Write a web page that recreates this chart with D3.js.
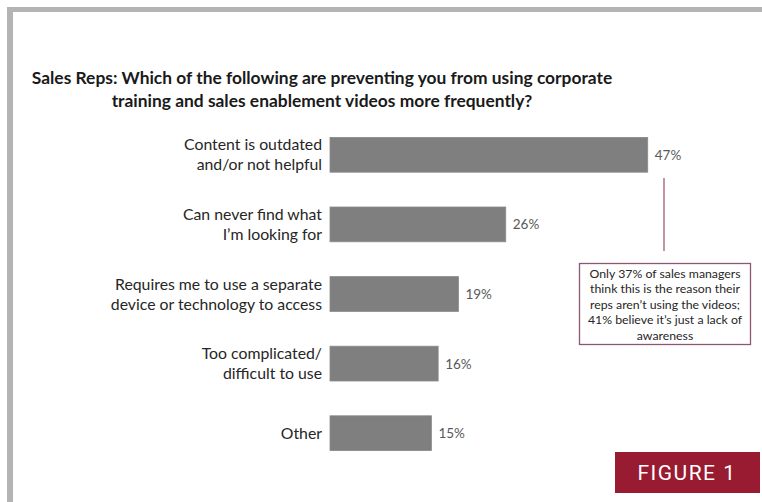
<!DOCTYPE html>
<html>
<head>
<meta charset="utf-8">
<script src="https://cdn.jsdelivr.net/npm/d3@7"></script>
<style>
  html, body { margin: 0; padding: 0; background: #fff; }
  svg { display: block; }
</style>
</head>
<body>
<svg id="chart" width="762" height="502"></svg>
<script>
// Survey answers (sales reps), share of respondents in percent
const categories = [
  ["Content is outdated", "and/or not helpful"],
  ["Can never find what", "I\u2019m looking for"],
  ["Requires me to use a separate", "device or technology to access"],
  ["Too complicated/", "difficult to use"],
  ["Other"]
];
const values = [47, 26, 19, 16, 15];
const valueLabels = ["47%", "26%", "19%", "16%", "15%"];

const titleLines = [
  "Sales Reps: Which of the following are preventing you from using corporate",
  "training and sales enablement videos more frequently?"
];
const noteLines = [
  "Only 37% of sales managers",
  "think this is the reason their",
  "reps aren\u2019t using the videos;",
  "41% believe it\u2019s just a lack of",
  "awareness"
];
const badgeText = "FIGURE 1";

const svg = d3.select("#chart");
const font = "Lato, 'Open Sans', sans-serif";

// page frame
svg.append("rect").attr("x", 0).attr("y", 0).attr("width", 762).attr("height", 502).attr("fill", "#fff");
svg.append("rect").attr("x", 7).attr("y", 7).attr("width", 755).attr("height", 5).attr("fill", "#b4b4b4");
svg.append("rect").attr("x", 7).attr("y", 7).attr("width", 6).attr("height", 495).attr("fill", "#b4b4b4");

// title
svg.append("g").selectAll("text")
  .data(titleLines)
  .join("text")
  .attr("x", 322)
  .attr("y", (d, i) => 84 + i * 23)
  .attr("text-anchor", "middle")
  .attr("font-family", font)
  .attr("font-weight", "bold")
  .attr("font-size", 17.4)
  .attr("fill", "#1a1a1a")
  .text(d => d);

const idx = d3.range(values.length);
const y = d3.scaleBand().domain(idx).range([120, 468]).paddingInner(0.5).paddingOuter(0.25);
const x = d3.scaleLinear().domain([0, 50]).range([330, 668]);

// bars
svg.append("g").selectAll("rect")
  .data(idx)
  .join("rect")
  .attr("x", x(0))
  .attr("y", i => y(i))
  .attr("width", i => x(values[i]) - x(0))
  .attr("height", y.bandwidth())
  .attr("fill", "#7f7f7f")
  .attr("stroke", "#8a8a8a")
  .attr("stroke-width", 0.8);

// category labels
const cat = svg.append("g").selectAll("text")
  .data(idx)
  .join("text")
  .attr("text-anchor", "end")
  .attr("font-family", font)
  .attr("font-size", 15.8)
  .attr("fill", "#262626")
  .attr("x", x(0) - 8)
  .attr("y", i => y(i) + y.bandwidth() / 2 - (categories[i].length - 1) * 10 + 5.5);
cat.selectAll("tspan")
  .data(i => categories[i])
  .join("tspan")
  .attr("x", x(0) - 8)
  .attr("dy", (d, j) => j === 0 ? 0 : 20)
  .text(d => d);

// value labels
svg.append("g").selectAll("text")
  .data(idx)
  .join("text")
  .attr("x", i => x(values[i]) + 7)
  .attr("y", i => y(i) + y.bandwidth() / 2 + 5)
  .attr("font-family", font)
  .attr("font-size", 13.5)
  .attr("fill", "#595959")
  .text(i => valueLabels[i]);

// callout connector and note box
svg.append("line")
  .attr("x1", 664).attr("x2", 664)
  .attr("y1", 178).attr("y2", 251)
  .attr("stroke", "#b57a92").attr("stroke-width", 1.6);
svg.append("rect")
  .attr("x", 579.5).attr("y", 263.5)
  .attr("width", 171).attr("height", 81)
  .attr("fill", "#fff")
  .attr("stroke", "#8e5670").attr("stroke-width", 1.3);
svg.append("g").selectAll("text")
  .data(noteLines)
  .join("text")
  .attr("x", 665)
  .attr("y", (d, i) => 277.5 + i * 15.6)
  .attr("text-anchor", "middle")
  .attr("font-family", font)
  .attr("font-size", 12.3)
  .attr("fill", "#262626")
  .text(d => d);

// figure badge
svg.append("rect")
  .attr("x", 615).attr("y", 452)
  .attr("width", 145).attr("height", 41)
  .attr("fill", "#981b32");
svg.append("text")
  .attr("x", 687).attr("y", 480)
  .attr("text-anchor", "middle")
  .attr("font-family", "Roboto, sans-serif")
  .attr("font-size", 21)
  .attr("letter-spacing", 1.5)
  .attr("fill", "#fff")
  .text(badgeText);
</script>
</body>
</html>
